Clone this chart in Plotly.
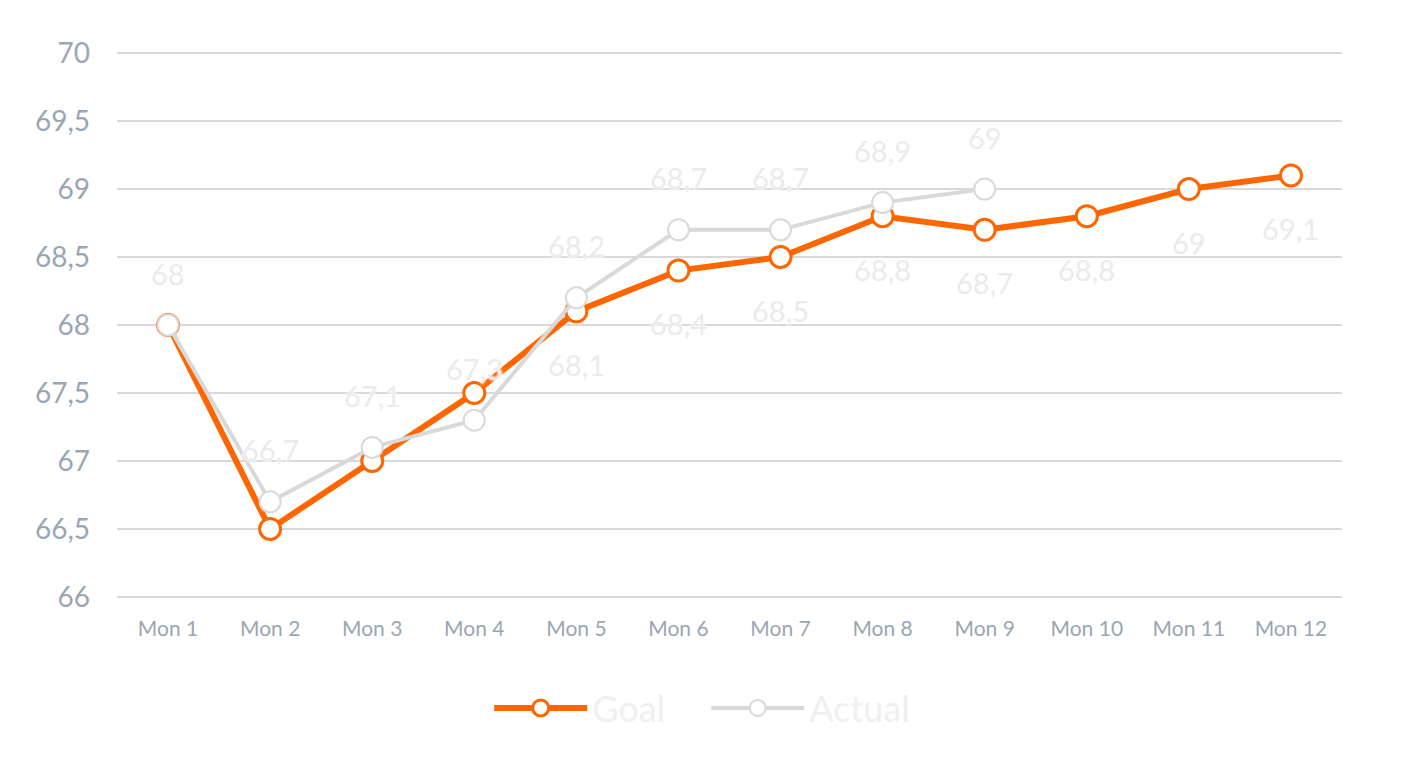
import plotly.graph_objects as go

categories = ["Mon 1", "Mon 2", "Mon 3", "Mon 4", "Mon 5", "Mon 6",
              "Mon 7", "Mon 8", "Mon 9", "Mon 10", "Mon 11", "Mon 12"]
goal = [68, 66.5, 67, 67.5, 68.1, 68.4, 68.5, 68.8, 68.7, 68.8, 69, 69.1]
actual = [68, 66.7, 67.1, 67.3, 68.2, 68.7, 68.7, 68.9, 69]
goal_label_start = 4  # goal labels shown from Mon 5 onward
y_ticks = [66, 66.5, 67, 67.5, 68, 68.5, 69, 69.5, 70]

ORANGE = "#FF6600"
GREY = "#D9D9D9"
LABEL = "#EBEBEB"
AXIS_TXT = "#9AA6B2"
FONT = "Lato"


def fmt(v):
    return f"{v:g}".replace(".", ",")


fig = go.Figure()
fig.add_trace(go.Scatter(
    x=categories, y=goal, name="Goal", mode="lines+markers",
    line=dict(color=ORANGE, width=6),
    marker=dict(size=21, color="white", line=dict(color=ORANGE, width=3)),
))
fig.add_trace(go.Scatter(
    x=categories[:len(actual)], y=actual, name="Actual", mode="lines+markers",
    line=dict(color=GREY, width=4),
    marker=dict(size=21, color="white", line=dict(color=GREY, width=2)),
))

shadow = "0 0 3px #fff, 0 0 3px #fff"
for i, v in enumerate(actual):
    fig.add_annotation(x=categories[i], y=v, text=fmt(v), showarrow=False,
                       yshift=52, font=dict(family=FONT, size=29, color=LABEL, shadow=shadow))
for i, v in enumerate(goal):
    if i < goal_label_start:
        continue
    fig.add_annotation(x=categories[i], y=v, text=fmt(v), showarrow=False,
                       yshift=-53, font=dict(family=FONT, size=29, color=LABEL, shadow=shadow))

fig.update_layout(
    width=1402, height=783,
    margin=dict(l=117, r=60, t=51, b=184),
    paper_bgcolor="white", plot_bgcolor="white",
    separators=", ",
    font=dict(family=FONT, color=AXIS_TXT),
    showlegend=True,
    legend=dict(orientation="h", x=0.481, xanchor="center", y=-0.199, yanchor="middle",
                font=dict(family=FONT, size=36, color="#F0F0F0"),
                itemwidth=93, entrywidth=109, entrywidthmode="pixels",
                bgcolor="rgba(0,0,0,0)"),
    xaxis=dict(type="category", range=[-0.5, 11.5], showgrid=False, zeroline=False,
               showline=False, ticks="", tickfont=dict(size=21, color=AXIS_TXT),
               ticklabelstandoff=15),
    yaxis=dict(range=[65.985, 70.015], tickvals=y_ticks, showgrid=True, gridcolor=GREY,
               gridwidth=2, zeroline=False, showline=False, ticks="",
               tickfont=dict(size=28, color=AXIS_TXT), ticklabelstandoff=26),
)

fig.write_html("out.html")
